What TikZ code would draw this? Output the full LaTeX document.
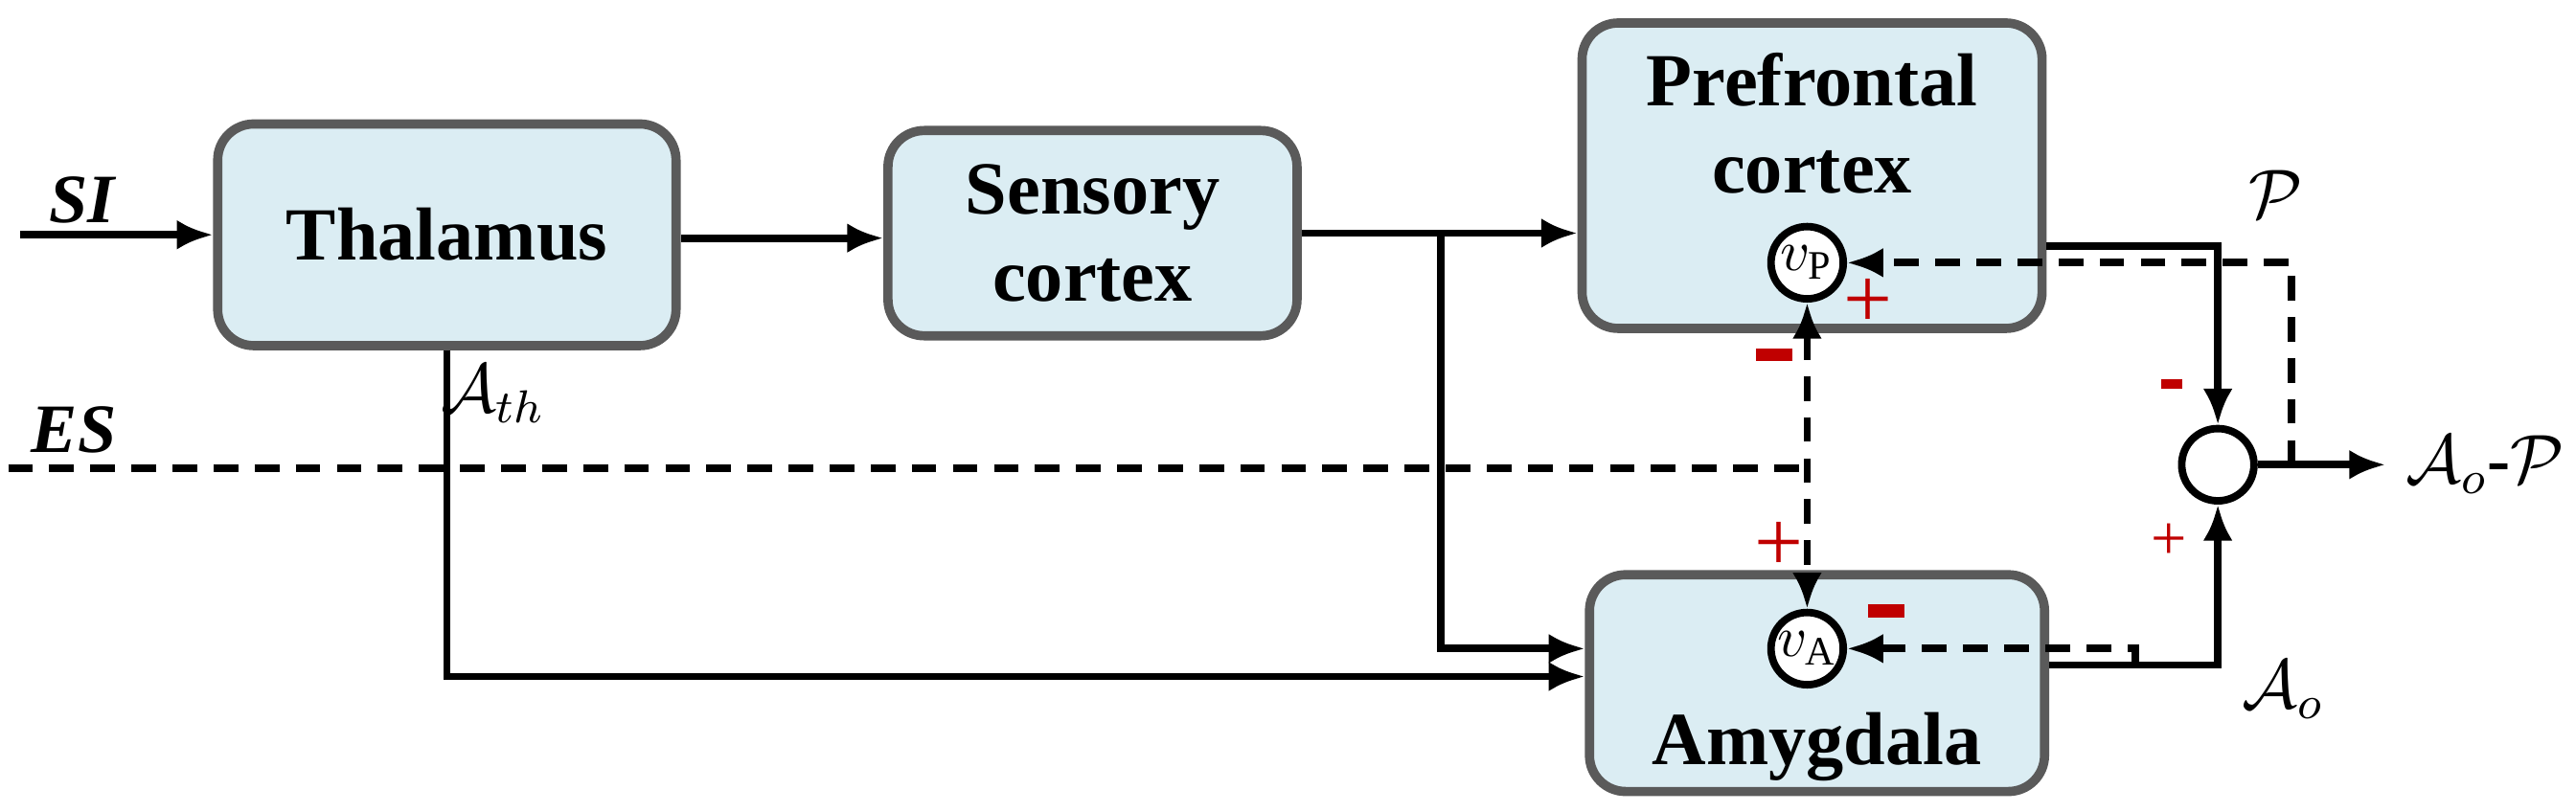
\documentclass[tikz,border=0pt]{standalone}
\usepackage{fontspec}
\setmainfont{Liberation Serif}
\usepackage{amsmath}
\usetikzlibrary{arrows.meta,calc}
\definecolor{boxfill}{RGB}{219,237,243}
\definecolor{boxline}{RGB}{90,90,90}
\definecolor{signred}{RGB}{192,0,0}
\tikzset{
	block/.style={draw=boxline,line width=1.6pt,fill=boxfill,rounded corners=2.2mm,align=center,font=\fontsize{13}{15}\selectfont\bfseries},
	gain/.style={circle,draw,line width=1.3pt,fill=white,minimum size=4.4mm,inner sep=0pt},
	sig/.style={line width=1.3pt,-{Latex[length=2.2mm,width=1.8mm]}},
	fb/.style={sig,dashed,dash pattern=on 1.5mm off 1mm},
	sgn/.style={text=signred,font=\fontsize{14}{14}\selectfont\bfseries},
	lab/.style={font=\fontsize{12}{12}\selectfont}
}
\begin{document}
\begin{tikzpicture}[x=0.1mm,y=-0.1mm]
	\useasboundingbox (0,0) rectangle (1568,494);

	\node[block,minimum width=27.9mm,minimum height=13.5mm] (thal) at (272,143) {Thalamus};
	\node[block,minimum width=24.9mm,minimum height=12.5mm] (sens) at (665,142) {Sensory\\cortex};
	\node[block,minimum width=28mm,minimum height=18.6mm] (pfc) at (1103,107) {};
	\node[block,minimum width=27.7mm,minimum height=13.2mm] (amy) at (1106,416) {};
	\node[font=\fontsize{13}{15}\selectfont\bfseries,align=center] (pfct) at (1103,75) {Prefrontal\\cortex};
	\node[font=\fontsize{13}{15}\selectfont\bfseries] (amyt) at (1106,455) {Amygdala};
	\node[gain] (vp) at (1100,160) {$v_{\mathrm{P}}$};
	\node[gain] (va) at (1100,395) {$v_{\mathrm{A}}$};
	\node[gain,minimum size=4.4mm] (sum) at (1350,283) {};

	% free ends
	\coordinate (si) at (12,143);
	\coordinate (es) at (5,285);
	\coordinate (out) at (1452,283);
	\coordinate (br) at (877,142);
	\coordinate (tap) at (1395,283);
	\coordinate (tapA) at (1300,405);

	% solid paths
	\draw[sig] (si) -- (thal.west|-si);
	\draw[sig] (thal.east|-0,145) -- (sens.west|-0,145);
	\draw[sig] (sens.east|-br) -- (pfc.west|-br);
	\draw[sig] (br) |- (amy.west|-0,395);
	\draw[sig] (thal.south) |- (amy.west|-0,412);
	\draw[sig] (pfc.east|-0,150) -| (sum.north);
	\draw[sig] (amy.east|-tapA) -| (sum.south);
	\draw[sig] (sum.east) -- (out);

	% dashed paths
	\draw[line width=1.3pt,dash pattern=on 1.5mm off 1mm] (es) -- (vp|-es);
	\draw[fb,{Latex[length=2.2mm,width=1.8mm]}-{Latex[length=2.2mm,width=1.8mm]}] (vp.south) -- (va.north);
	\draw[fb] (tap) |- (vp.east);
	\draw[fb] (tapA) |- (va.east);

	% labels
	\node[lab,font=\fontsize{12}{12}\selectfont\bfseries\itshape] (lsi) at (50,122) {SI};
	\node[lab,font=\fontsize{12}{12}\selectfont\bfseries\itshape] (les) at (45,262) {ES};
	\node[lab] (lath) at (300,240) {$\mathcal{A}_{th}$};
	\node[lab] (lp) at (1385,118) {$\mathcal{P}$};
	\node[lab,anchor=west] (lout) at (out) {$\mathcal{A}_o$\textbf{-}$\mathcal{P}$};
	\node[lab] (lao) at (1390,420) {$\mathcal{A}_o$};

	% signs
	\node[sgn] (s1) at (1080,216) {\rule{2.2mm}{0.8mm}};
	\node[sgn,font=\fontsize{15}{15}\selectfont] (s2) at (1137,185) {+};
	\node[sgn] (s3) at (1322,234) {\rule{1.3mm}{0.6mm}};
	\node[sgn,font=\fontsize{11}{11}\selectfont] (s4) at (1320,330) {+};
	\node[sgn,font=\fontsize{15}{15}\selectfont] (s5) at (1083,333) {+};
	\node[sgn] (s6) at (1148,372) {\rule{2.2mm}{0.8mm}};
\end{tikzpicture}
\end{document}
